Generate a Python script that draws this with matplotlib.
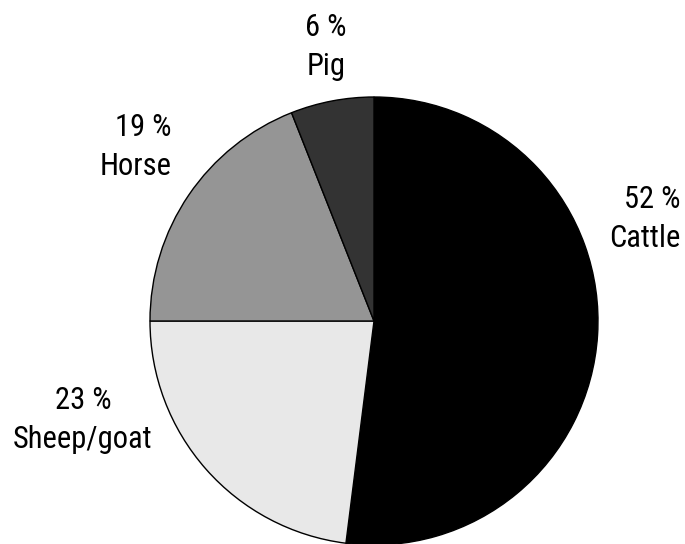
import matplotlib
matplotlib.use("Agg")
import matplotlib.pyplot as plt

categories = ["Cattle", "Sheep/goat", "Horse", "Pig"]
shares = [52, 23, 19, 6]
colors = ["#000000", "#e8e8e8", "#959595", "#333333"]

FONT = ["Roboto Condensed", "Archivo Narrow", "DejaVu Sans"]

W, H = 685, 544
fig = plt.figure(figsize=(W / 100, H / 100), dpi=100)
ax = fig.add_axes([0, 0, 1, 1])

ax.pie(shares, colors=colors, startangle=90, counterclock=False,
       center=(374, H - 321), radius=224,
       wedgeprops=dict(edgecolor="black", linewidth=1.0))
ax.set_xlim(0, W)
ax.set_ylim(0, H)
ax.set_aspect("equal")
ax.axis("off")

# label anchors: x, baseline of the name line (pixels from top), alignment
label_pos = {
    "Cattle": (681, 247, "right"),
    "Sheep/goat": (83, 448, "center"),
    "Horse": (172, 175, "right"),
    "Pig": (326, 75, "center"),
}
for name, val in zip(categories, shares):
    x, base, ha = label_pos[name]
    ax.text(x, H - base, f"{val} %\n{name}", ha=ha, va="baseline",
            family=FONT, fontsize=22, linespacing=1.43, color="black",
            multialignment=ha)

fig.savefig("out.png", dpi=100)
